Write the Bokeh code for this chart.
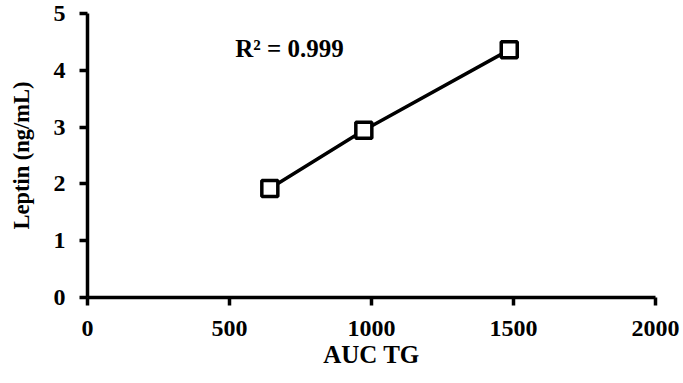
from bokeh.plotting import figure
from bokeh.models import Range1d, FixedTicker, Label
from bokeh.embed import file_html
from bokeh.resources import INLINE

# Leptin concentration against triglyceride area under the curve
auc_tg = [642, 973, 1485]
leptin = [1.92, 2.945, 4.36]
x_ticks = [0, 500, 1000, 1500, 2000]
y_ticks = [0, 1, 2, 3, 4, 5]
r2_text = "R² = 0.999"

FONT = "Liberation Serif"

p = figure(width=683, height=383, output_backend="svg", toolbar_location=None,
           x_range=Range1d(0, 2000), y_range=Range1d(0, 5),
           min_border_left=87, min_border_right=28,
           min_border_top=13, min_border_bottom=86)
p.outline_line_color = None
p.grid.visible = False
p.background_fill_color = "white"
p.border_fill_color = "white"

p.xaxis.ticker = FixedTicker(ticks=x_ticks)
p.yaxis.ticker = FixedTicker(ticks=y_ticks)
for ax in (p.xaxis[0], p.yaxis[0]):
    ax.axis_line_width = 3.5
    ax.axis_line_color = "black"
    ax.major_tick_line_width = 3.5
    ax.major_tick_line_color = "black"
    ax.major_tick_out = 8
    ax.major_tick_in = 0
    ax.minor_tick_line_color = None
    ax.major_label_text_font = FONT
    ax.major_label_text_font_style = "bold"
    ax.major_label_text_font_size = "24px"
    ax.major_label_text_color = "black"
    ax.axis_label_text_font = FONT
    ax.axis_label_text_font_style = "bold"
    ax.axis_label_text_color = "black"

p.xaxis.axis_label = "AUC TG"
p.yaxis.axis_label = "Leptin (ng/mL)"
p.xaxis.axis_label_text_font_size = "25px"
p.yaxis.axis_label_text_font_size = "22.5px"
p.xaxis.major_label_standoff = 15
p.yaxis.major_label_standoff = 14
p.xaxis.axis_label_standoff = 2
p.yaxis.axis_label_standoff = 17

p.line(auc_tg, leptin, line_color="black", line_width=3.5)
p.scatter(auc_tg, leptin, marker="square", size=16, fill_color="white",
          line_color="black", line_width=3.5)

p.add_layout(Label(x=520, y=4.38, text=r2_text, text_font=FONT,
                   text_font_style="bold", text_font_size="25px",
                   text_color="black", text_baseline="middle"))

open("out.html", "w").write(file_html(p, INLINE))
